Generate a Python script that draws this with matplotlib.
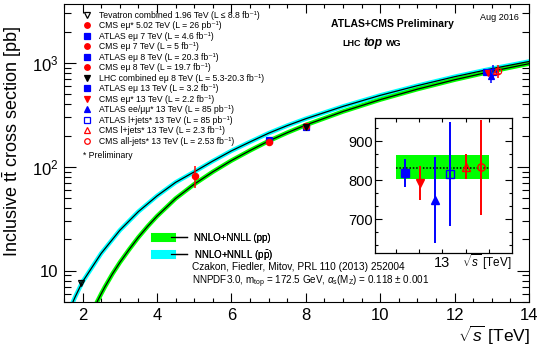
import matplotlib
matplotlib.use('Agg')
import matplotlib.pyplot as plt
from matplotlib.lines import Line2D
from matplotlib.legend_handler import HandlerTuple
from matplotlib.ticker import MultipleLocator, FixedLocator, NullFormatter, LogLocator

plt.rcParams['font.family'] = ['Liberation Sans', 'DejaVu Sans']
plt.rcParams['mathtext.fontset'] = 'custom'
plt.rcParams['mathtext.rm'] = 'Liberation Sans'
plt.rcParams['mathtext.it'] = 'Liberation Sans:italic'
plt.rcParams['mathtext.bf'] = 'Liberation Sans:bold'

# NNLO+NNLL predictions [TeV], [pb]
rs_pp = [2.3, 2.4, 2.5, 2.6, 2.8, 3.0, 3.25, 3.5, 3.75, 4.0, 4.5, 5.0, 5.5, 6.0,
         6.5, 7.0, 7.5, 8.0, 9.0, 10.0, 11.0, 12.0, 13.0, 14.0]
xs_pp = [4.3, 5.1, 6.0, 7.0, 9.3, 12.0, 16.0, 21.0, 26.8, 33.5, 49.6, 68.1, 89.6, 115.0,
         143.7, 177.3, 213.3, 252.9, 341.0, 444.0, 560.0, 690.0, 832.0, 985.0]
rs_ppbar = [1.7, 1.75, 1.8, 1.96, 2.0, 2.5, 3.0, 3.5, 4.0, 4.5, 5.0, 5.5, 6.0,
            6.5, 7.0, 7.5, 8.0, 9.0, 10.0, 11.0, 12.0, 13.0, 14.0]
xs_ppbar = [4.6, 5.1, 5.6, 7.35, 7.84, 14.7, 24.5, 37.1, 52.5, 70.9, 89.5, 113.8, 142.6,
            173.9, 211.0, 249.6, 290.8, 382.0, 488.0, 605.0, 738.0, 882.0, 1034.0]

# theory at 13 TeV (inset band)
band_rs = [12.8, 13.2]
th13 = 832
th13_lo = 804
th13_hi = 866

# measurements
labels = [
    'Tevatron combined 1.96 TeV (L \u2264 8.8 fb\u207b\u00b9)',
    'CMS e\u03bc* 5.02 TeV (L = 26 pb\u207b\u00b9)',
    'ATLAS e\u03bc 7 TeV (L = 4.6 fb\u207b\u00b9)',
    'CMS e\u03bc 7 TeV (L = 5 fb\u207b\u00b9)',
    'ATLAS e\u03bc 8 TeV (L = 20.3 fb\u207b\u00b9)',
    'CMS e\u03bc 8 TeV (L = 19.7 fb\u207b\u00b9)',
    'LHC combined e\u03bc 8 TeV (L = 5.3-20.3 fb\u207b\u00b9)',
    'ATLAS e\u03bc 13 TeV (L = 3.2 fb\u207b\u00b9)',
    'CMS e\u03bc* 13 TeV (L = 2.2 fb\u207b\u00b9)',
    'ATLAS ee/\u03bc\u03bc* 13 TeV (L = 85 pb\u207b\u00b9)',
    'ATLAS l+jets* 13 TeV (L = 85 pb\u207b\u00b9)',
    'CMS l+jets* 13 TeV (L = 2.3 fb\u207b\u00b9)',
    'CMS all-jets* 13 TeV (L = 2.53 fb\u207b\u00b9)',
]
meas_rs = [1.96, 5.02, 7.0, 7.0, 8.0, 8.0, 8.0, 12.84, 12.905, 12.97, 13.035, 13.1, 13.165]
meas_xs = [7.60, 82, 182.9, 173.6, 242.4, 244.9, 241.5, 818, 793, 749, 817, 835, 834]
meas_err = [0.41, 20, 7.1, 6.4, 10.3, 9.5, 8.5, 36, 44, 110, 134, 32, 122]
markers = ['v', 'o', 's', 'o', 's', 'o', 'v', 's', 'v', '^', 's', '^', 'o']
colors = ['black', 'red', 'blue', 'red', 'blue', 'red', 'black', 'blue', 'red', 'blue',
          'blue', 'red', 'red']
filled = [False, True, True, True, True, True, True, True, True, True, False, False, False]

GREEN = '#00ff00'
CYAN = '#00ffff'

fig = plt.figure(figsize=(5.4, 3.5), dpi=100)
ax = fig.add_axes([64 / 540, 1 - 302 / 350, 465 / 540, 298 / 350])
ax.set_yscale('log')
ax.set_xlim(1.5, 14)
ax.set_ylim(5, 3700)

# theory curves
ax.plot(rs_ppbar, xs_ppbar, color=CYAN, lw=3.2, zorder=2)
ax.plot(rs_pp, xs_pp, color=GREEN, lw=3.2, zorder=2)
ax.plot(rs_ppbar, xs_ppbar, color='black', lw=0.9, zorder=3)
ax.plot(rs_pp, xs_pp, color='black', lw=0.9, zorder=3)

handles = []
for i in range(len(labels)):
    mfc = colors[i] if filled[i] else 'none'
    ax.errorbar(meas_rs[i], meas_xs[i], yerr=meas_err[i], fmt=markers[i], color=colors[i],
                mfc=mfc, mec=colors[i], ms=4.5, mew=0.9, elinewidth=1.1, capsize=0, zorder=4)
    handles.append(Line2D([], [], ls='none', marker=markers[i], color=colors[i], mfc=mfc,
                          mec=colors[i], ms=4.0, mew=0.9))

leg = ax.legend(handles, labels, loc='upper left', bbox_to_anchor=(0.0398, 0.977),
                frameon=False, fontsize=6.25, handlelength=1.0, handletextpad=0.95,
                labelspacing=0.17, borderpad=0, borderaxespad=0)
ax.add_artist(leg)
ax.text(0.0402, 1 - 151 / 298, '* Preliminary', transform=ax.transAxes, fontsize=6.25,
        va='center')

# theory legend
th_handles = [(Line2D([], [], color=GREEN, lw=6.5), Line2D([], [], color='black', lw=0.9)),
              (Line2D([], [], color=CYAN, lw=6.5), Line2D([], [], color='black', lw=0.9))]
th_labels = ['NNLO+NNLL (pp)', r'NNLO+NNLL (p$\bar{\mathrm{p}}$)']
leg2 = ax.legend(th_handles, th_labels, loc='upper left', bbox_to_anchor=(0.1957, 0.232),
                 frameon=False, fontsize=7, handlelength=3.3, handletextpad=0.7,
                 labelspacing=0.5, borderpad=0, borderaxespad=0,
                 handler_map={tuple: HandlerTuple(ndivide=None)})
ax.add_artist(leg2)
ax.text(0.275, 1 - 263 / 298, 'Czakon, Fiedler, Mitov, PRL 110 (2013) 252004',
        transform=ax.transAxes, fontsize=7.3, va='center')
ax.text(0.275, 1 - 278 / 298,
        r'NNPDF3.0, m$_{\rm top}$ = 172.5 GeV, $\alpha_{\rm s}$(M$_{\rm Z}$) = 0.118 $\pm$ 0.001',
        transform=ax.transAxes, fontsize=7.1, va='center')

# axes styling
ax.xaxis.set_major_locator(MultipleLocator(2))
ax.xaxis.set_minor_locator(MultipleLocator(0.5))
ax.yaxis.set_major_locator(FixedLocator([10, 100, 1000]))
ax.yaxis.set_major_formatter(plt.FixedFormatter(['10', '$10^{2}$', '$10^{3}$']))
ax.yaxis.set_minor_locator(LogLocator(base=10, subs=range(2, 10)))
ax.yaxis.set_minor_formatter(NullFormatter())
ax.tick_params(axis='both', which='both', direction='in', top=True, right=True, width=0.8)
ax.tick_params(axis='x', which='major', length=6.5, labelsize=12, pad=4)
ax.tick_params(axis='x', which='minor', length=3.2)
ax.tick_params(axis='y', which='major', length=8.6, labelsize=12, pad=4)
ax.tick_params(axis='y', which='minor', length=4.7)
for s in ax.spines.values():
    s.set_linewidth(0.8)

fig.text(0.022, 1 - 142 / 350, r'Inclusive $\mathrm{t\bar{t}}$ cross section [pb]',
         rotation=90, ha='center', va='center', fontsize=13)
fig.text(530 / 540, 1 - 335 / 350, r'$\sqrt{s}$ [TeV]', ha='right', va='center', fontsize=12.5)

fig.text(331 / 540, 1 - 24 / 350, 'ATLAS+CMS Preliminary', fontsize=7.5, fontweight='bold',
         va='center')
fig.text(519 / 540, 1 - 18 / 350, 'Aug 2016', fontsize=6.5, ha='right', va='center')
fig.text(342 / 540, 1 - 46 / 350, 'LHC', fontsize=6.5, fontweight='bold', va='baseline')
fig.text(363 / 540, 1 - 46 / 350, 'top', fontsize=8.8, fontweight='bold', style='italic',
         va='baseline')
fig.text(386 / 540, 1 - 46 / 350, 'WG', fontsize=6.5, fontweight='bold', va='baseline')

# inset at 13 TeV
axi = fig.add_axes([375 / 540, 1 - 253 / 350, 137 / 540, 135 / 350])
axi.set_xlim(12.71, 13.30)
axi.set_ylim(614, 960)
axi.fill_between(band_rs, [th13_lo, th13_lo], [th13_hi, th13_hi], color=GREEN, lw=0, zorder=1)
axi.plot(band_rs, [th13, th13], color='black', ls=(0, (1, 1.2)), lw=1.1, zorder=2)
for i in range(7, len(labels)):
    mfc = colors[i] if filled[i] else 'none'
    axi.errorbar(meas_rs[i], meas_xs[i], yerr=meas_err[i], fmt=markers[i], color=colors[i],
                 mfc=mfc, mec=colors[i], ms=5.3, mew=1.0, elinewidth=1.4, capsize=0, zorder=3)
axi.xaxis.set_major_locator(FixedLocator([12.8, 12.9, 13.0, 13.1, 13.2]))
axi.xaxis.set_major_formatter(plt.FixedFormatter(['', '', '13', '', '']))
axi.yaxis.set_major_locator(MultipleLocator(100))
axi.yaxis.set_minor_locator(MultipleLocator(100 / 3))
axi.tick_params(axis='both', which='both', direction='in', top=True, right=True, width=0.8)
axi.tick_params(axis='x', which='major', length=3, labelsize=10.5, pad=2)
axi.tick_params(axis='y', which='major', length=5, labelsize=10.5, pad=1.5)
axi.tick_params(axis='y', which='minor', length=2.5)
for s in axi.spines.values():
    s.set_linewidth(0.9)
axi.text(1.0, -0.065, r'$\sqrt{s}$ [TeV]', transform=axi.transAxes, ha='right', va='center',
         fontsize=8.5)

fig.savefig('out.png', dpi=100)
